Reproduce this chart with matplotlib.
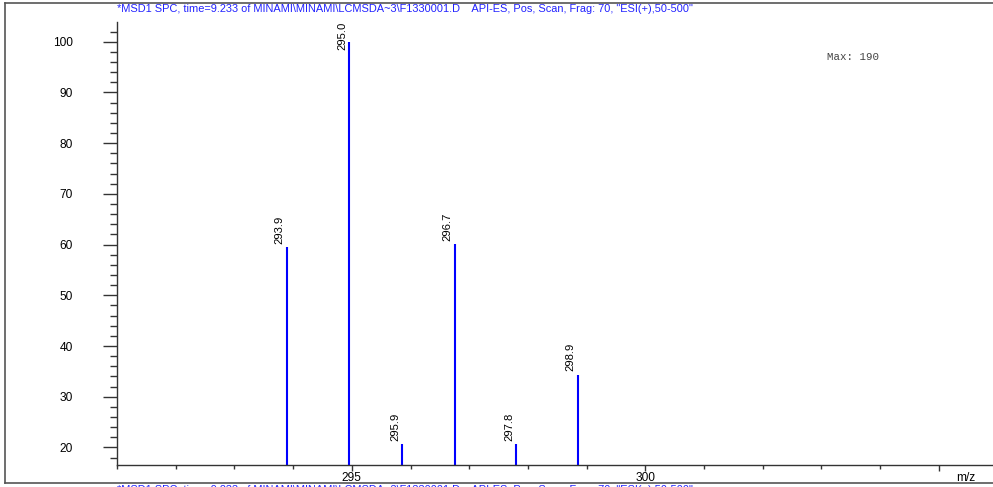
import numpy as np
import matplotlib
matplotlib.use("Agg")
import matplotlib.pyplot as plt
from matplotlib.lines import Line2D
from matplotlib.ticker import MultipleLocator

plt.rcParams['font.family'] = ['Liberation Sans', 'DejaVu Sans']

# 质谱峰数据（位置按图读取，标签为仪器给出的 m/z）
mz = [293.89, 294.96, 295.86, 296.75, 297.80, 298.85]
abundance = [59.5, 100.0, 20.6, 60.1, 20.6, 34.3]
peak_labels = ["293.9", "295.0", "295.9", "296.7", "297.8", "298.9"]
xtick_vals = [295, 300, 305]
xtick_labels = ["295", "300", ""]
ytick_vals = [20, 30, 40, 50, 60, 70, 80, 90, 100]
title = ('*MSD1 SPC, time=9.233 of MINAMI\\MINAMI\\LCMSDA~3\\F1330001.D    '
         'API-ES, Pos, Scan, Frag: 70, "ESI(+),50-500"')
max_text = "Max: 190"

W, H = 993, 487
fig = plt.figure(figsize=(W / 100, H / 100), dpi=100)

def px(x, y):
    # 像素坐标 -> figure 坐标
    return x / W, 1 - y / H

x0, y_top, y_bot = 117, 22, 464.7
ax = fig.add_axes([x0 / W, (H - y_bot) / H, 1 - x0 / W, (y_bot - y_top) / H])
ax.set_xlim(291.0, 291.0 + (W - x0) / 58.7)
ax.set_ylim(16.6, 103.9)

blue = "#0000ff"
y_base, y_max = ax.get_ylim()
ax.vlines(mz, y_base, abundance, color=blue, linewidth=1.5)
for x, y, lab in zip(mz, abundance, peak_labels):
    if y > 95:
        # 太高的峰：标签贴着顶部放在谱线左侧
        ax.annotate(lab, (x, y_max), xytext=(-1.5, 0), textcoords="offset points",
                    rotation=90, ha="right", va="top", fontsize=8.1)
    else:
        ax.annotate(lab, (x, y), xytext=(-1.5, 2.5), textcoords="offset points",
                    rotation=90, ha="right", va="bottom", fontsize=8.1)

for s in ["top", "right"]:
    ax.spines[s].set_visible(False)
for s in ["left", "bottom"]:
    ax.spines[s].set_color("#333333")
    ax.spines[s].set_linewidth(1.0)

ax.yaxis.set_minor_locator(MultipleLocator(2))
ax.xaxis.set_minor_locator(MultipleLocator(1))
ax.set_yticks(ytick_vals)
ax.set_yticklabels([str(v) for v in ytick_vals])
ax.set_xticks(xtick_vals)
ax.set_xticklabels(xtick_labels)
ax.tick_params(axis="y", which="major", length=10, width=1, color="#333333",
               labelsize=8.6, pad=22)
ax.tick_params(axis="y", which="minor", length=5, width=1, color="#333333")
ax.tick_params(axis="x", which="major", length=4.5, width=1, color="#333333",
               labelsize=8.6, pad=1)
ax.tick_params(axis="x", which="minor", length=3, width=1, color="#333333")

fig.text(*px(966, 478), "m/z", fontsize=8.6, ha="center", va="center")
fig.text(*px(117, 12.3), title, color="#2222ff", fontsize=7.9, ha="left", va="baseline")
fig.text(*px(117, 485), title, color="#2222ff", fontsize=7.9, ha="left", va="top")
fig.text(*px(827, 57), max_text, family="Liberation Mono", color="#444444",
         fontsize=7.8, ha="left", va="center")

# 外框
fc = "#555555"
fig.add_artist(Line2D([5 / W, 1], [1 - 3.3 / H] * 2, color=fc, linewidth=1.2))
fig.add_artist(Line2D([5 / W] * 2, [1 - 3.3 / H, 1 - 482.5 / H], color=fc, linewidth=1.2))
fig.add_artist(Line2D([5 / W, 1], [1 - 482.5 / H] * 2, color=fc, linewidth=1.2))

fig.savefig("out.png", dpi=100)
